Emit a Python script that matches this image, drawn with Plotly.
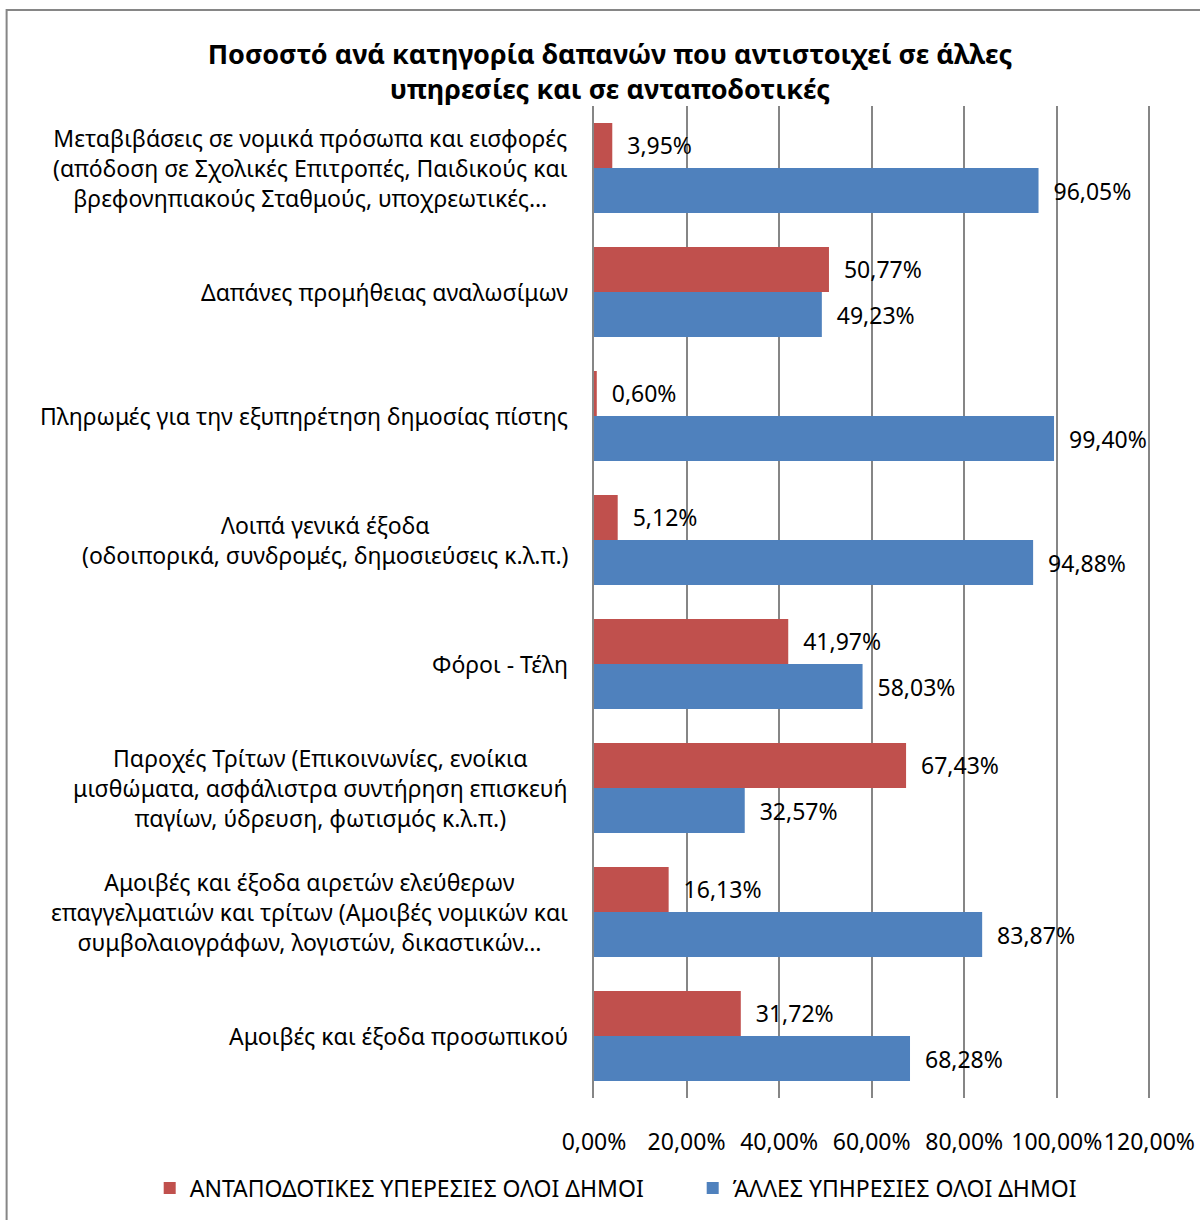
import plotly.graph_objects as go

categories = [
    "Μεταβιβάσεις σε νομικά πρόσωπα και εισφορές<br>(απόδοση σε Σχολικές Επιτροπές, Παιδικούς και<br>βρεφονηπιακούς Σταθμούς, υποχρεωτικές…",
    "Δαπάνες προμήθειας αναλωσίμων",
    "Πληρωμές για την εξυπηρέτηση δημοσίας πίστης",
    "Λοιπά γενικά έξοδα<br>(οδοιπορικά, συνδρομές, δημοσιεύσεις κ.λ.π.)",
    "Φόροι - Τέλη",
    "Παροχές Τρίτων (Επικοινωνίες, ενοίκια<br>μισθώματα, ασφάλιστρα συντήρηση επισκευή<br>παγίων, ύδρευση, φωτισμός κ.λ.π.)",
    "Αμοιβές και έξοδα αιρετών ελεύθερων<br>επαγγελματιών και τρίτων (Αμοιβές νομικών και<br>συμβολαιογράφων, λογιστών, δικαστικών…",
    "Αμοιβές και έξοδα προσωπικού",
]
antapodotikes = [0.0395, 0.5077, 0.0060, 0.0512, 0.4197, 0.6743, 0.1613, 0.3172]
alles = [0.9605, 0.4923, 0.9940, 0.9488, 0.5803, 0.3257, 0.8387, 0.6828]
series_names = ["ΑΝΤΑΠΟΔΟΤΙΚΕΣ ΥΠΕΡΕΣΙΕΣ ΟΛΟΙ ΔΗΜΟΙ", "ΆΛΛΕΣ ΥΠΗΡΕΣΙΕΣ ΟΛΟΙ ΔΗΜΟΙ"]
title_text = "Ποσοστό ανά κατηγορία δαπανών που αντιστοιχεί σε άλλες<br>υπηρεσίες και σε ανταποδοτικές"

FONT = "Noto Sans"
FS = 23
W, H = 1200, 1220
XMAX = 1.21
L, T, B = 594, 106, 122
pw = 555 * XMAX / 1.2
R = W - L - pw
ph = H - T - B

def px2x(px):
    return (px - L) / pw

def py2y(py):
    return (H - B - py) / ph

fig = go.Figure()
for name, vals, color in [(series_names[0], antapodotikes, "#C0504D"),
                          (series_names[1], alles, "#4F81BD")]:
    fig.add_trace(go.Bar(
        y=categories, x=vals, name=name, orientation="h",
        marker=dict(color=color, line=dict(width=0)),
        texttemplate="\u00a0\u00a0%{x:.2%}", textposition="outside",
        constraintext="none", cliponaxis=False,
        textfont=dict(family=FONT, size=FS, color="black"),
    ))

for c in categories:
    fig.add_annotation(x=0, xref="paper", y=c, yref="y", text=c, showarrow=False,
                       xanchor="right", align="center", xshift=-24,
                       font=dict(family=FONT, size=FS, color="black"))

# chart border
fig.add_shape(type="rect", xref="paper", yref="paper",
              x0=px2x(7), x1=px2x(1203), y0=py2y(1223), y1=py2y(10),
              line=dict(color="#868686", width=2), layer="below")

fig.update_layout(
    width=W, height=H, barmode="group", bargap=0.274, bargroupgap=0,
    separators=",.",
    margin=dict(l=L, r=R, t=T, b=B, pad=0, autoexpand=False),
    plot_bgcolor="white", paper_bgcolor="white",
    font=dict(family=FONT, size=FS, color="black"),
    title=dict(text="<b>" + title_text + "</b>", x=610 / W, xanchor="center",
               y=1 - 64 / H, yanchor="middle",
               font=dict(family=FONT, size=27, color="black")),
    xaxis=dict(range=[0, XMAX], dtick=0.2, tick0=0, tickformat=".2%",
               showgrid=True, gridcolor="#868686", gridwidth=2,
               zeroline=False, showline=False, ticks="", tickangle=0,
               ticklabelstandoff=28, ticklabeloverflow="allow", automargin=False,
               tickfont=dict(family=FONT, size=FS, color="black")),
    yaxis=dict(autorange="reversed", showticklabels=False, showgrid=False,
               automargin=False,
               showline=True, linecolor="#868686", linewidth=2, ticks=""),
    legend=dict(orientation="h", x=px2x(150), xanchor="left",
                y=py2y(1188), yanchor="middle", entrywidth=498,
                font=dict(family=FONT, size=FS, color="black"),
                traceorder="normal"),
    showlegend=True,
)

fig.write_html("out.html", config={"displayModeBar": False},
               post_script="document.body.style.margin='0';")
